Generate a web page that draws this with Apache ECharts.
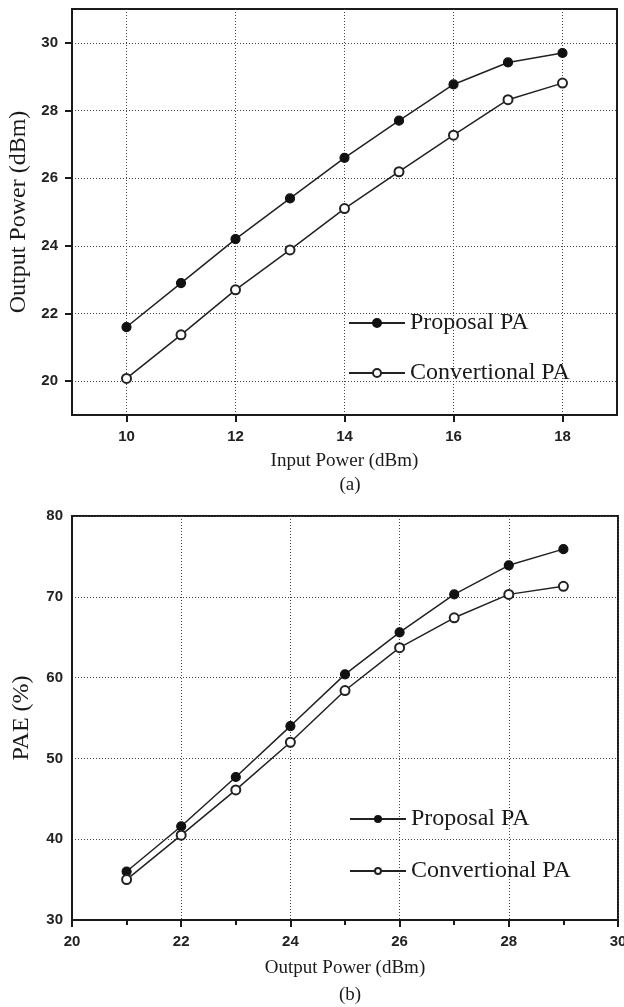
<!DOCTYPE html>
<html>
<head>
<meta charset="utf-8">
<script src="https://cdn.jsdelivr.net/npm/echarts@6/dist/echarts.min.js"></script>
<style>
  html, body { margin: 0; padding: 0; background: #fff; }
  #main { width: 624px; height: 1007px; }
</style>
</head>
<body>
<div id="main"></div>
<script>
// (a) output power vs input power
var inputPower = [10, 11, 12, 13, 14, 15, 16, 17, 18];
var outProposal = [21.6, 22.9, 24.2, 25.4, 26.6, 27.7, 28.77, 29.42, 29.7];
var outConventional = [20.08, 21.37, 22.7, 23.88, 25.1, 26.19, 27.27, 28.32, 28.81];
var xTicksA = [10, 12, 14, 16, 18];
var yTicksA = [20, 22, 24, 26, 28, 30];

// (b) PAE vs output power
var outPowerB = [21, 22, 23, 24, 25, 26, 27, 28, 29];
var paeProposal = [36.0, 41.6, 47.7, 54.0, 60.4, 65.6, 70.3, 73.9, 75.9];
var paeConventional = [35.0, 40.5, 46.1, 52.0, 58.4, 63.7, 67.4, 70.3, 71.3];

var seriesNames = ['Proposal PA', 'Convertional PA'];

function pairs(xs, ys) {
    return xs.map(function (x, i) { return [x, ys[i]]; });
}

var sans = 'Liberation Sans';
var serif = 'Liberation Serif';
var ink = '#1a1a1a';

var tickLabel = { fontFamily: sans, fontSize: 15, fontWeight: 'bold', color: '#222' };
var axisLine = { show: true, lineStyle: { color: ink, width: 2 } };
var gridLine = { show: true, lineStyle: { color: '#444', width: 1, type: [1, 2] } };
var nameStyle = { fontFamily: serif, fontSize: 19, color: ink };
var yNameStyle = { fontFamily: serif, fontSize: 24, color: ink };

function lineSeries(name, xi, data, filled, size) {
    return {
        name: name,
        type: 'line',
        xAxisIndex: xi,
        yAxisIndex: xi,
        data: data,
        symbol: filled ? 'circle' : 'emptyCircle',
        symbolSize: size,
        lineStyle: { color: '#222', width: 1.5 },
        itemStyle: { color: filled ? '#111' : '#222', borderColor: '#111', borderWidth: 1.2 },
        z: 5
    };
}

var myChart = echarts.init(document.getElementById('main'));

var option = {
    animation: false,
    backgroundColor: '#fff',
    title: [
        { text: '(a)', left: 345, top: 471, textAlign: 'center',
          textStyle: { fontFamily: serif, fontSize: 19, fontWeight: 'normal', color: ink } },
        { text: '(b)', left: 345, top: 981, textAlign: 'center',
          textStyle: { fontFamily: serif, fontSize: 19, fontWeight: 'normal', color: ink } }
    ],
    grid: [
        { left: 72, top: 9, width: 545, height: 406, show: true, borderColor: ink, borderWidth: 2,
          containLabel: false, outerBoundsMode: 'none' },
        { left: 72, top: 516, width: 546, height: 404, show: true, borderColor: ink, borderWidth: 2,
          containLabel: false, outerBoundsMode: 'none' }
    ],
    legend: [
        {
            data: seriesNames, orient: 'vertical', left: 343, top: 306,
            itemWidth: 56, itemHeight: 10, itemGap: 26,
            textStyle: { fontFamily: serif, fontSize: 24, lineHeight: 24, color: ink },
            selectedMode: false
        },
        {
            data: seriesNames, orient: 'vertical', left: 344, top: 802,
            itemWidth: 56, itemHeight: 7.5, itemGap: 28,
            textStyle: { fontFamily: serif, fontSize: 24, lineHeight: 24, color: ink },
            selectedMode: false
        }
    ],
    xAxis: [
        {
            type: 'value', gridIndex: 0, min: 9, max: 19,
            name: 'Input Power (dBm)', nameLocation: 'middle', nameGap: 37, nameTextStyle: nameStyle,
            axisLine: axisLine,
            axisTick: { show: true, inside: false, length: 7, lineStyle: { color: ink, width: 2 }, customValues: xTicksA },
            axisLabel: Object.assign({ margin: 14, customValues: xTicksA }, tickLabel),
            splitLine: gridLine
        },
        {
            type: 'value', gridIndex: 1, min: 20, max: 30, interval: 2,
            name: 'Output Power (dBm)', nameLocation: 'middle', nameGap: 39, nameTextStyle: nameStyle,
            axisLine: axisLine,
            axisTick: { show: true, inside: false, length: 7, lineStyle: { color: ink, width: 2 } },
            minorTick: { show: true, splitNumber: 2, length: 5, lineStyle: { color: ink, width: 2 } },
            axisLabel: Object.assign({ margin: 14 }, tickLabel),
            splitLine: gridLine
        }
    ],
    yAxis: [
        {
            type: 'value', gridIndex: 0, min: 19, max: 31,
            name: 'Output Power (dBm)', nameLocation: 'middle', nameGap: 38, nameTextStyle: yNameStyle,
            axisLine: axisLine,
            axisTick: { show: true, inside: false, length: 7, lineStyle: { color: ink, width: 2 }, customValues: yTicksA },
            axisLabel: Object.assign({ margin: 14, customValues: yTicksA }, tickLabel),
            splitLine: gridLine
        },
        {
            type: 'value', gridIndex: 1, min: 30, max: 80, interval: 10,
            name: 'PAE (%)', nameLocation: 'middle', nameGap: 38, nameTextStyle: yNameStyle,
            axisLine: axisLine,
            axisTick: { show: false },
            axisLabel: Object.assign({ margin: 9 }, tickLabel),
            splitLine: gridLine
        }
    ],
    series: [
        lineSeries(seriesNames[0], 0, pairs(inputPower, outProposal), true, 9),
        lineSeries(seriesNames[1], 0, pairs(inputPower, outConventional), false, 9),
        lineSeries(seriesNames[0], 1, pairs(outPowerB, paeProposal), true, 9),
        lineSeries(seriesNames[1], 1, pairs(outPowerB, paeConventional), false, 9)
    ]
};

myChart.setOption(option);
</script>
</body>
</html>
